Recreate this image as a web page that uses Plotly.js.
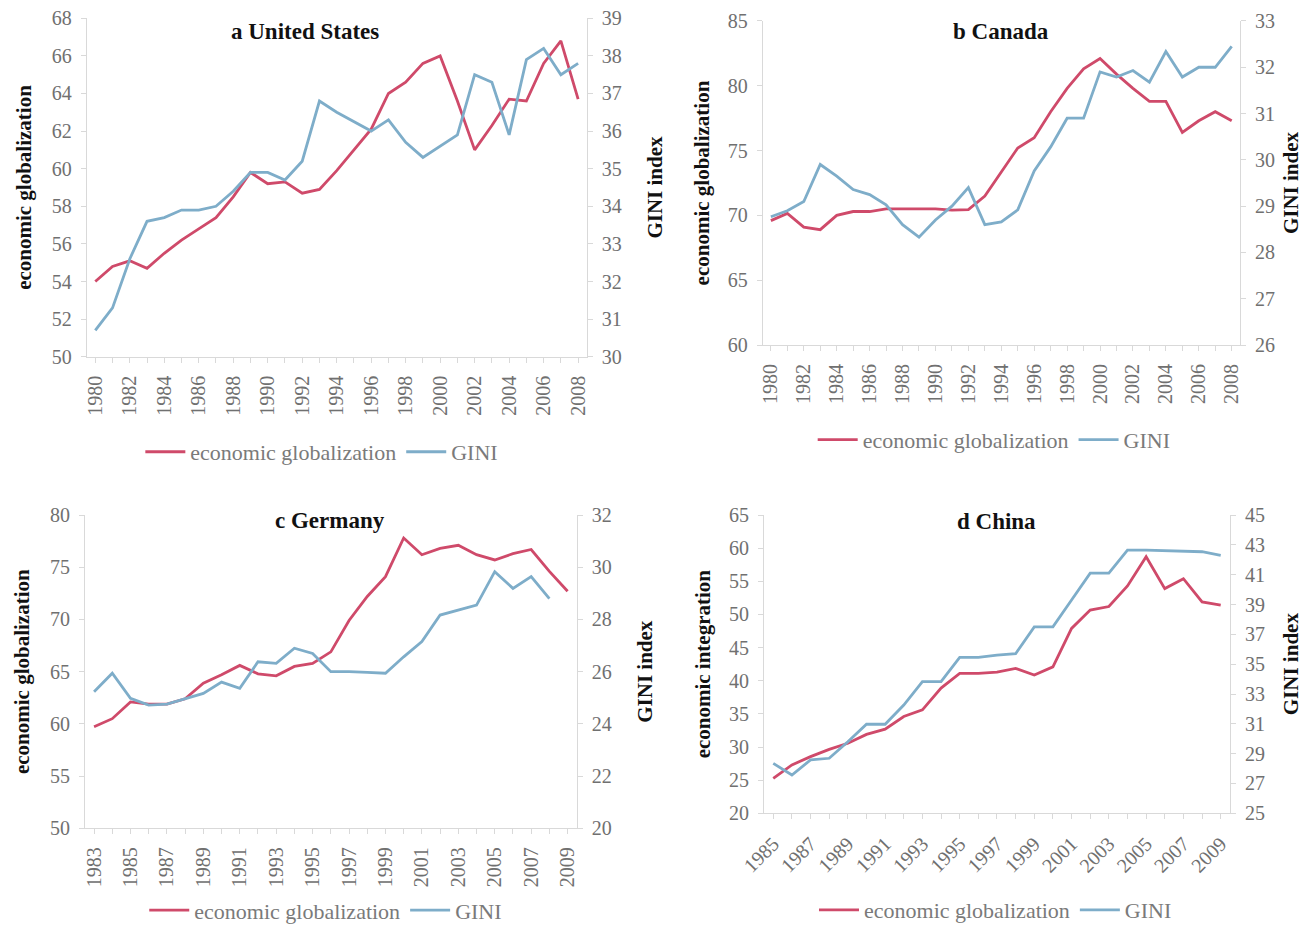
<!DOCTYPE html>
<html>
<head>
<meta charset="utf-8">
<script src="https://cdn.plot.ly/plotly-3.0.1.min.js"></script>
<style>html,body{margin:0;padding:0;background:#fff;} #chart{width:1303px;height:928px;}</style>
</head>
<body>
<div id="chart"></div>
<script>
// ---------- data ----------
const usYears = [1980,1981,1982,1983,1984,1985,1986,1987,1988,1989,1990,1991,1992,1993,1994,1995,1996,1997,1998,1999,2000,2001,2002,2003,2004,2005,2006,2007,2008];
const usEcon  = [54.0,54.8,55.1,54.7,55.5,56.2,56.8,57.4,58.5,59.8,59.2,59.3,58.7,58.9,59.9,61.0,62.1,64.0,64.6,65.6,66.0,63.6,61.0,62.3,63.7,63.6,65.6,66.8,63.7];
const usGini  = [30.7,31.3,32.6,33.6,33.7,33.9,33.9,34.0,34.4,34.9,34.9,34.7,35.2,36.8,36.5,36.25,36.0,36.3,35.7,35.3,35.6,35.9,37.5,37.3,35.9,37.9,38.2,37.5,37.8];

const caYears = [1980,1981,1982,1983,1984,1985,1986,1987,1988,1989,1990,1991,1992,1993,1994,1995,1996,1997,1998,1999,2000,2001,2002,2003,2004,2005,2006,2007,2008];
const caEcon  = [69.6,70.15,69.1,68.9,70.0,70.3,70.3,70.5,70.5,70.5,70.5,70.4,70.45,71.5,73.3,75.2,76.0,78.0,79.8,81.3,82.1,80.9,79.8,78.8,78.8,76.4,77.3,78.0,77.3];
const caGini  = [28.77,28.9,29.1,29.9,29.65,29.36,29.25,29.03,28.6,28.33,28.7,29.0,29.4,28.6,28.66,28.92,29.76,30.28,30.9,30.9,31.9,31.79,31.93,31.68,32.34,31.79,32.0,32.0,32.45];

const deYears = [1983,1984,1985,1986,1987,1988,1989,1990,1991,1992,1993,1994,1995,1996,1997,1998,1999,2000,2001,2002,2003,2004,2005,2006,2007,2008,2009];
const deEcon  = [59.73,60.5,62.1,61.9,61.9,62.4,63.9,64.7,65.6,64.8,64.6,65.5,65.8,66.9,69.9,72.2,74.1,77.8,76.2,76.8,77.1,76.2,75.7,76.3,76.7,74.6,72.7];
const deGiniYears = [1983,1984,1985,1986,1987,1988,1989,1990,1991,1992,1993,1994,1995,1996,1997,1998,1999,2000,2001,2002,2003,2004,2005,2006,2007,2008];
const deGini  = [25.23,25.94,24.98,24.72,24.76,24.98,25.17,25.6,25.36,26.38,26.32,26.9,26.7,26.0,26.0,25.97,25.94,26.57,27.15,28.17,28.36,28.55,29.83,29.19,29.64,28.8];

const cnYears = [1985,1986,1987,1988,1989,1990,1991,1992,1993,1994,1995,1996,1997,1998,1999,2000,2001,2002,2003,2004,2005,2006,2007,2008,2009];
const cnEcon  = [25.28,27.3,28.55,29.65,30.56,31.9,32.7,34.6,35.6,38.9,41.1,41.1,41.3,41.87,40.87,42.1,47.9,50.67,51.2,54.3,58.7,53.9,55.4,51.9,51.4];
const cnGini  = [28.35,27.57,28.58,28.69,29.8,30.97,30.97,32.26,33.83,33.83,35.46,35.46,35.6,35.7,37.5,37.5,39.3,41.1,41.1,42.65,42.65,42.6,42.54,42.54,42.3];

const panelTitles = ['a United States','b Canada','c Germany','d China'];
const leftTitles  = ['economic globalization','economic globalization','economic globalization','economic integration'];
const rightTitle  = 'GINI index';
const econName = 'economic globalization';
const giniName = 'GINI';

// ---------- style ----------
const serif = "'Liberation Serif', 'DejaVu Serif', serif";
const RED = '#cf4a6a';
const BLUE = '#7eadc9';

function line(x, y, name, color, xa, ya, lg){
  return {x:x, y:y, name:name, type:'scatter', mode:'lines', xaxis:xa, yaxis:ya, legend:lg,
          line:{color:color, width:2.8}, hoverinfo:'x+y'};
}

const data = [
  line(usYears, usEcon, econName, RED, 'x', 'y', 'legend'),
  line(usYears, usGini, giniName, BLUE, 'x', 'y2', 'legend'),
  line(caYears, caEcon, econName, RED, 'x2', 'y3', 'legend2'),
  line(caYears, caGini, giniName, BLUE, 'x2', 'y4', 'legend2'),
  line(deYears, deEcon, econName, RED, 'x3', 'y5', 'legend3'),
  line(deGiniYears, deGini, giniName, BLUE, 'x3', 'y6', 'legend3'),
  line(cnYears, cnEcon, econName, RED, 'x4', 'y7', 'legend4'),
  line(cnYears, cnGini, giniName, BLUE, 'x4', 'y8', 'legend4')
];

function ax(extra){
  return Object.assign({
    showline:true, linecolor:'#d9d9d9', linewidth:1, ticks:'outside', tickcolor:'#d9d9d9', ticklen:5,
    showgrid:false, zeroline:false, fixedrange:true, ticklabelstandoff:5,
    tickfont:{family:serif, size:20, color:'#707070'}
  }, extra);
}
function xax(extra){
  return ax(Object.assign({minor:{dtick:1, ticks:'outside', ticklen:5, tickcolor:'#d9d9d9', showgrid:false}}, extra));
}
function ttl(t, standoff){
  return {text:'<b>'+t+'</b>', font:{family:serif, size:21, color:'#111'}, standoff:standoff};
}
function legend(x, y){
  return {orientation:'h', x:x, xanchor:'center', y:y, yanchor:'middle', bgcolor:'rgba(0,0,0,0)',
          font:{family:serif, size:22, color:'#7a7a7a'}, itemclick:false, itemdoubleclick:false,
          tracegroupgap:0, itemwidth:40};
}
function title(t, px, py){
  return {text:'<b>'+t+'</b>', xref:'paper', yref:'paper', x:px/1303, y:1-py/928,
          xanchor:'center', yanchor:'middle', showarrow:false, font:{family:serif,size:23,color:'#111'}};
}

const layout = {
  width:1303, height:928, margin:{l:0,r:0,t:0,b:0, autoexpand:false},
  paper_bgcolor:'#ffffff', plot_bgcolor:'#ffffff', showlegend:true,
  // panel a
  xaxis: xax({domain:[0.0665,0.4503], anchor:'y', range:[1979.5,2008.5], tick0:1980, dtick:2, tickangle:-90}),
  yaxis: ax({domain:[0.6156,0.9803], anchor:'x', range:[50,68], tick0:50, dtick:2, title:ttl(leftTitles[0],14)}),
  yaxis2: ax({overlaying:'y', side:'right', anchor:'x', range:[30,39], tick0:30, dtick:1, title:ttl(rightTitle,26)}),
  // panel b
  xaxis2: xax({domain:[0.5853,0.9516], anchor:'y3', range:[1979.5,2008.5], tick0:1980, dtick:2, tickangle:-90}),
  yaxis3: ax({domain:[0.6282,0.9774], anchor:'x2', range:[60,85], tick0:60, dtick:5, title:ttl(leftTitles[1],12)}),
  yaxis4: ax({overlaying:'y3', side:'right', anchor:'x2', range:[26,33], tick0:26, dtick:1, title:ttl(rightTitle,24)}),
  // panel c
  xaxis3: xax({domain:[0.0652,0.4426], anchor:'y5', range:[1982.5,2009.5], tick0:1983, dtick:2, tickangle:-90}),
  yaxis5: ax({domain:[0.1074,0.4450], anchor:'x3', range:[50,80], tick0:50, dtick:5, title:ttl(leftTitles[2],14)}),
  yaxis6: ax({overlaying:'y5', side:'right', anchor:'x3', range:[20,32], tick0:20, dtick:2, title:ttl(rightTitle,26)}),
  // panel d
  xaxis4: xax({domain:[0.5863,0.9440], anchor:'y7', range:[1984.5,2009.5], tick0:1985, dtick:2, tickangle:-45}),
  yaxis7: ax({domain:[0.1236,0.4450], anchor:'x4', range:[20,65], tick0:20, dtick:5, title:ttl(leftTitles[3],12)}),
  yaxis8: ax({overlaying:'y7', side:'right', anchor:'x4', range:[25,45], tick0:25, dtick:2, title:ttl(rightTitle,22)}),
  legend: legend(0.247, 0.513),
  legend2: legend(0.763, 0.526),
  legend3: legend(0.250, 0.019),
  legend4: legend(0.764, 0.0194),
  annotations: [
    title(panelTitles[0], 305, 31),
    title(panelTitles[1], 1001, 31),
    title(panelTitles[2], 330, 520),
    title(panelTitles[3], 996, 521)
  ]
};

Plotly.newPlot('chart', data, layout, {displayModeBar:false, staticPlot:true});
</script>
</body>
</html>
